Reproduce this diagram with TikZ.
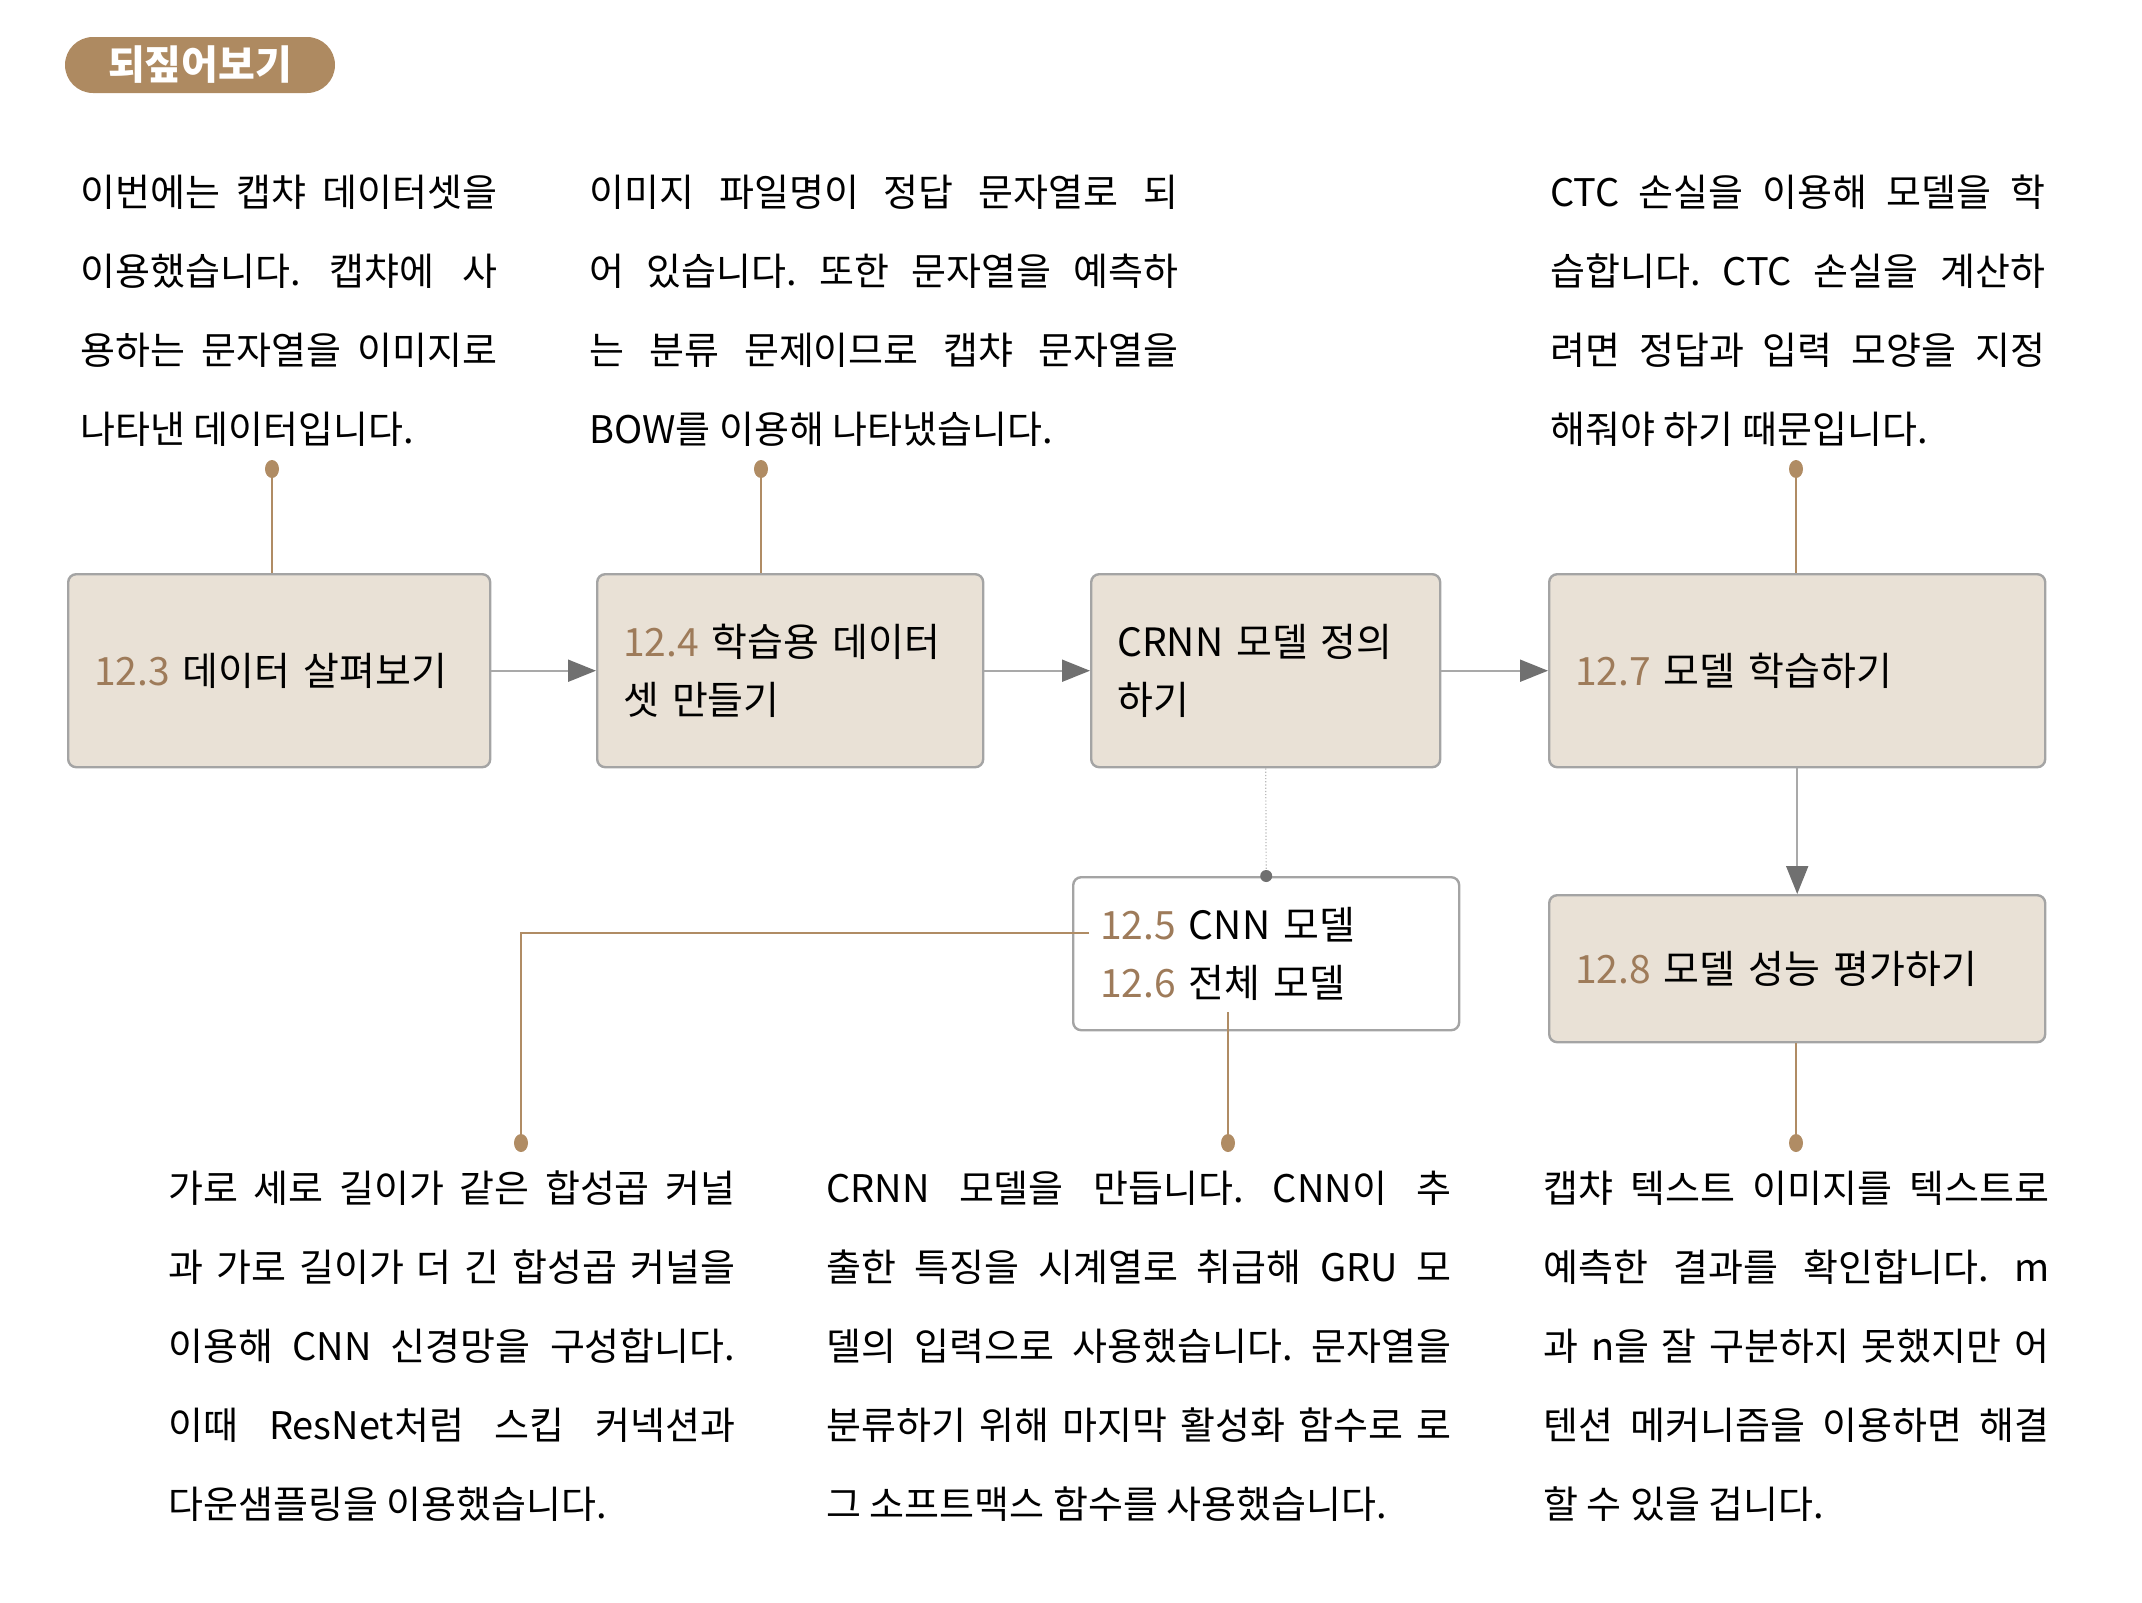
\documentclass[tikz,border=0pt]{standalone}
\usepackage{fontspec}
\setmainfont{Noto Sans CJK KR}
\usetikzlibrary{arrows.meta,shapes.geometric}
\frenchspacing

\definecolor{pillbrown}{HTML}{AE8A61}
\definecolor{linebrown}{HTML}{B08C64}
\definecolor{numbrown}{HTML}{9E7B5A}
\definecolor{boxfill}{HTML}{E9E1D6}
\definecolor{boxline}{HTML}{A4A4A4}
\definecolor{arrowgray}{HTML}{A9A9A9}
\definecolor{headgray}{HTML}{707070}

\newcommand{\secno}[1]{{\color{numbrown}#1}}
\newcommand{\jline}[2]{\makebox[#1][s]{#2}}

\tikzset{
  sectbox/.style={draw=boxline, fill=boxfill, line width=1.2pt, rounded corners=4pt,
    anchor=north west, inner xsep=13pt, align=left,
    font=\fontsize{19.5pt}{29pt}\selectfont},
  note/.style={anchor=base west, inner sep=0pt, align=left,
    font=\fontsize{19pt}{39.5pt}\selectfont},
  pin/.style={ellipse, fill=linebrown, inner sep=0pt, minimum width=7pt, minimum height=9pt},
  link/.style={draw=linebrown, line width=1.4pt},
  flow/.style={draw=arrowgray, line width=1pt, -{Triangle[length=14pt,width=11pt,color=headgray]}},
}

\begin{document}
\begin{tikzpicture}[x=0.5pt,y=-0.5pt]
\useasboundingbox (0,0) rectangle (2142,1602);

% title
\node[fill=pillbrown, rounded corners=14pt, minimum width=135pt, minimum height=28pt,
      text=white, font=\fontsize{20pt}{20pt}\selectfont\bfseries] (title) at (200,65) {되짚어보기};

% pins at the ends of the brown links
\node[pin] (p1) at (272,469) {};
\node[pin] (p2) at (761,469) {};
\node[pin] (p3) at (1796,469) {};
\node[pin] (p4) at (521,1143) {};
\node[pin] (p5) at (1228,1143) {};
\node[pin] (p6) at (1796,1143) {};

% section boxes
\begin{scope}[every node/.style={sectbox}]
    \node[text width=185pt, minimum height=96.5pt] (s123) at (67,573) {\secno{12.3} 데이터 살펴보기};
    \node[text width=167pt, minimum height=96.5pt] (s124) at (596,573) {\secno{12.4} 학습용 데이터\\셋 만들기};
    \node[text width=148.5pt, minimum height=96.5pt] (crnn) at (1090,573) {CRNN 모델 정의\\하기};
    \node[text width=222pt, minimum height=96.5pt] (s127) at (1548,573) {\secno{12.7} 모델 학습하기};
    \node[text width=222pt, minimum height=73.5pt] (s128) at (1548,894) {\secno{12.8} 모델 성능 평가하기};
    \node[fill=white, inner xsep=13.5pt, text width=166pt, minimum height=76.5pt] (cnn) at (1072,876)
        {\secno{12.5} CNN 모델\\\secno{12.6} 전체 모델};
\end{scope}

\begin{scope}[every edge/.style={flow}]
    \path (s123) edge (s124);
    \path (s124) edge (crnn);
    \path (crnn) edge (s127);
    \path (s127) edge (s128);
\end{scope}

\draw[densely dotted, draw=gray!55, line width=0.6pt] (crnn.south) -- (cnn.north);
\node[circle, fill=headgray, inner sep=0pt, minimum size=6pt] (joint) at (cnn.north) {};

\coordinate (c125) at (1089,933);
\coordinate (c126) at (1228,1012);
\draw[link] (p1.center) -- (p1 |- s123.north);
\draw[link] (p2.center) -- (p2 |- s124.north);
\draw[link] (p3.center) -- (p3 |- s127.north);
\draw[link] (c125) -| (p4.center);
\draw[link] (c126) -- (p5.center);
\draw[link] (p6 |- s128.south) -- (p6.center);

% notes (anchored at the baseline of their last line)
\node[note] (n123) at (80,443) {\jline{208.5pt}{이번에는 캡챠 데이터셋을}\\
    \jline{208.5pt}{이용했습니다. 캡챠에 사}\\
    \jline{208.5pt}{용하는 문자열을 이미지로}\\
    나타낸 데이터입니다.};
\node[note] (n124) at (589,443) {\jline{294.5pt}{이미지 파일명이 정답 문자열로 되}\\
    \jline{294.5pt}{어 있습니다. 또한 문자열을 예측하}\\
    \jline{294.5pt}{는 분류 문제이므로 캡챠 문자열을}\\
    BOW를 이용해 나타냈습니다.};
\node[note] (n127) at (1550,443) {\jline{247.5pt}{CTC 손실을 이용해 모델을 학}\\
    \jline{247.5pt}{습합니다. CTC 손실을 계산하}\\
    \jline{247.5pt}{려면 정답과 입력 모양을 지정}\\
    해줘야 하기 때문입니다.};
\node[note] (n125) at (168,1518) {\jline{283.5pt}{가로 세로 길이가 같은 합성곱 커널}\\
    \jline{283.5pt}{과 가로 길이가 더 긴 합성곱 커널을}\\
    \jline{283.5pt}{이용해 CNN 신경망을 구성합니다.}\\
    \jline{283.5pt}{이때 ResNet처럼 스킵 커넥션과}\\
    다운샘플링을 이용했습니다.};
\node[note] (n126) at (826,1518) {\jline{312.5pt}{CRNN 모델을 만듭니다. CNN이 추}\\
    \jline{312.5pt}{출한 특징을 시계열로 취급해 GRU 모}\\
    \jline{312.5pt}{델의 입력으로 사용했습니다. 문자열을}\\
    \jline{312.5pt}{분류하기 위해 마지막 활성화 함수로 로}\\
    그 소프트맥스 함수를 사용했습니다.};
\node[note] (n128) at (1543,1518) {\jline{253pt}{캡챠 텍스트 이미지를 텍스트로}\\
    \jline{253pt}{예측한 결과를 확인합니다. m}\\
    \jline{253pt}{과 n을 잘 구분하지 못했지만 어}\\
    \jline{253pt}{텐션 메커니즘을 이용하면 해결}\\
    할 수 있을 겁니다.};
\end{tikzpicture}
\end{document}
